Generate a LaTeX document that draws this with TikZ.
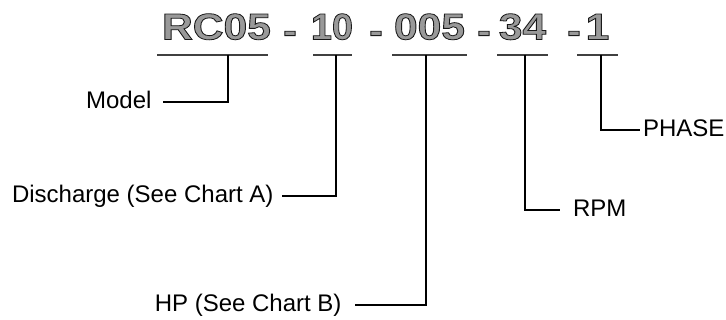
\documentclass[tikz,border=0pt]{standalone}
\usepackage{fontspec}
\setmainfont{Liberation Sans}
\usepackage{graphicx}
\definecolor{codefill}{gray}{0.6}
% hollow-looking code characters: grey fill with a thin dark outline
\newcommand\outlinedcode[2]{\scalebox{#1}[1]{\special{pdf:literal direct 2 Tr 0.8 w 0.1 G}#2\special{pdf:literal direct 0 Tr}}}
\begin{document}
\begin{tikzpicture}[x=1pt,y=-1pt,
  codepart/.style={anchor=base, inner sep=0pt, text=codefill,
    font=\fontsize{37}{37}\selectfont\bfseries},
  fieldlabel/.style={inner sep=0pt, text height=17.5pt, text depth=5pt,
    font=\fontsize{24}{24}\selectfont},
  uline/.style={line width=1.3pt, black!75},
  leader/.style={line width=1.4pt, black}]
\useasboundingbox (0,0) rectangle (726,320);

% the model code
\node[codepart] (cModel) at (216.5,39.5) {\outlinedcode{1.15}{RC05}};
\node[codepart] (dashA)  at (290,43)     {\outlinedcode{1.1}{-}};
\node[codepart] (cDisch) at (332,39.5)   {\outlinedcode{1.02}{10}};
\node[codepart] (dashB)  at (376,43)     {\outlinedcode{1.1}{-}};
\node[codepart] (cHP)    at (429.5,39.5) {\outlinedcode{1.15}{005}};
\node[codepart] (dashC)  at (484,43)     {\outlinedcode{1.1}{-}};
\node[codepart] (cRPM)   at (522.5,39.5) {\outlinedcode{1.15}{34}};
\node[codepart] (dashD)  at (574,43)     {\outlinedcode{1.1}{-}};
\node[codepart] (cPhase) at (597.5,39.5) {\outlinedcode{1.15}{1}};

% underlines below each field
\draw[uline] (157,55) -- (268,55);
\draw[uline] (313,55) -- (352,55);
\draw[uline] (392,55) -- (467,55);
\draw[uline] (497,55) -- (548,55);
\draw[uline] (577,55) -- (618,55);

% tap points on the underlines
\coordinate (tModel) at (228,55);
\coordinate (tDisch) at (336,55);
\coordinate (tHP)    at (426,55);
\coordinate (tRPM)   at (525,55);
\coordinate (tPhase) at (601,55);

% field descriptions
\node[fieldlabel, anchor=east, outer xsep=11.5pt] (lModel) at (163,102) {Model};
\node[fieldlabel, anchor=east, outer xsep=8.5pt]  (lDisch) at (282,196) {Discharge (See Chart A)};
\node[fieldlabel, anchor=east, outer xsep=13.5pt] (lHP)    at (355,305) {HP (See Chart B)};
\node[fieldlabel, anchor=west, outer xsep=13pt]   (lRPM)   at (560,210) {RPM};
\node[fieldlabel, anchor=west, outer xsep=3pt]    (lPhase) at (640,130) {PHASE};

% leaders from the code to the descriptions
\draw[leader] (tModel) |- (lModel);
\draw[leader] (tDisch) |- (lDisch);
\draw[leader] (tHP)    |- (lHP);
\draw[leader] (tRPM)   |- (lRPM);
\draw[leader] (tPhase) |- (lPhase);
\end{tikzpicture}
\end{document}
